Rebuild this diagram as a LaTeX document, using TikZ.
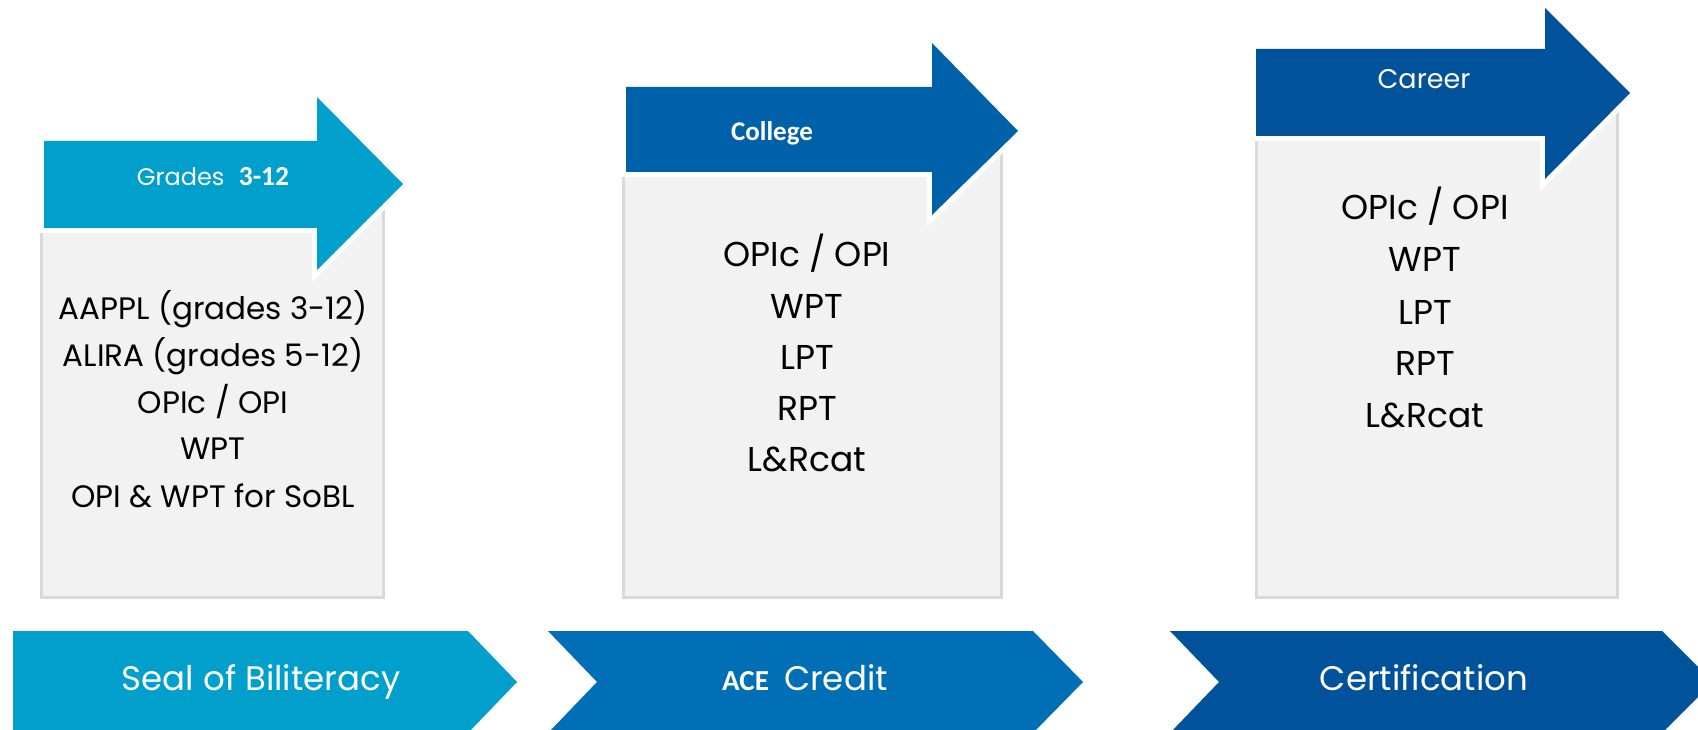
\documentclass[tikz,border=0pt]{standalone}
\usepackage{fontspec}
\setmainfont{Poppins}
\newfontfamily\calib{Carlito}

\definecolor{stageA}{RGB}{0,159,204}
\definecolor{stageB}{RGB}{0,97,171}
\definecolor{stageBband}{RGB}{0,111,181}
\definecolor{stageC}{RGB}{0,82,155}
\definecolor{panelfill}{RGB}{242,242,242}
\definecolor{panelline}{RGB}{217,217,217}

\tikzset{
  panelbox/.style={fill=panelfill, draw=panelline, line width=3pt},
  headarrow/.style={fill=#1, preaction={draw=white, line width=10pt, line join=miter}},
  band/.style={fill=#1},
  item/.style={anchor=base, inner sep=0pt, text=black},
  itemA/.style={item, font=\fontsize{31}{37}\selectfont},
  itemB/.style={item, font=\fontsize{34.5}{41}\selectfont},
  headtext/.style={anchor=base, inner sep=0pt, text=white},
  bandtext/.style={anchor=base, inner sep=0pt, text=white, font=\fontsize{34}{40}\selectfont},
}

\begin{document}
\begin{tikzpicture}[x=1pt, y=-1pt]
\useasboundingbox (0,0) rectangle (1698,730);
\clip (0,0) rectangle (1698,730);

% grey panels listing the tests
\draw[panelbox] (41,190) rectangle (383,597);
\draw[panelbox] (623,130) rectangle (1001,597);
\draw[panelbox] (1256,95) rectangle (1617,597);

% stage arrows on top of the panels
\path[headarrow=stageA] (44,141) -- (317,141) -- (317,97) -- (403,184)
  -- (317,270) -- (317,228) -- (44,228) -- cycle;
\path[headarrow=stageB] (626,87) -- (932,87) -- (932,43) -- (1018,131)
  -- (932,215) -- (932,172) -- (626,172) -- cycle;
\path[headarrow=stageC] (1256,49) -- (1545,49) -- (1545,8) -- (1630,93)
  -- (1545,179) -- (1545,136) -- (1256,136) -- cycle;

\node[headtext] (hA) at (213,186)
  {\fontsize{24}{29}\selectfont Grades\hspace{8pt} {\calib\bfseries\fontsize{27.5}{32}\selectfont 3-12}};
\node[headtext] (hB) at (772,141)
  {\calib\bfseries\fontsize{27}{32}\selectfont College};
\node[headtext] (hC) at (1424,89)
  {\fontsize{27}{32}\selectfont Career};

% test lists
\node[itemA] (a1) at (213,319) {AAPPL (grades 3-12)};
\node[itemA] (a2) at (213,366) {ALIRA (grades 5-12)};
\node[itemA] (a3) at (213,413) {OPIc / OPI};
\node[itemA] (a4) at (213,459) {WPT};
\node[itemA] (a5) at (213,507) {OPI \& WPT for SoBL};

\node[itemB] (b1) at (807,267) {OPIc / OPI};
\node[itemB] (b2) at (807,318) {WPT};
\node[itemB] (b3) at (807,369) {LPT};
\node[itemB] (b4) at (807,420) {RPT};
\node[itemB] (b5) at (807,471) {L\&Rcat};

\node[itemB] (c1) at (1425,220) {OPIc / OPI};
\node[itemB] (c2) at (1425,272) {WPT};
\node[itemB] (c3) at (1425,324) {LPT};
\node[itemB] (c4) at (1425,375) {RPT};
\node[itemB] (c5) at (1425,427) {L\&Rcat};

% chevron band along the bottom
\path[band=stageA] (13,631) -- (468,631) -- (517,682) -- (468,733) -- (13,733) -- cycle;
\path[band=stageBband] (548,631) -- (1033,631) -- (1083,682) -- (1033,733)
  -- (548,733) -- (597,682) -- cycle;
\path[band=stageC] (1170,631) -- (1662,631) -- (1713,682) -- (1662,733)
  -- (1170,733) -- (1219,682) -- cycle;

\node[bandtext] (sA) at (261,690) {Seal of Biliteracy};
\node[bandtext] (sB) at (805,690) {{\calib\bfseries\fontsize{29}{34}\selectfont ACE}\hspace{6pt} Credit};
\node[bandtext] (sC) at (1424,690) {Certification};
\end{tikzpicture}
\end{document}
